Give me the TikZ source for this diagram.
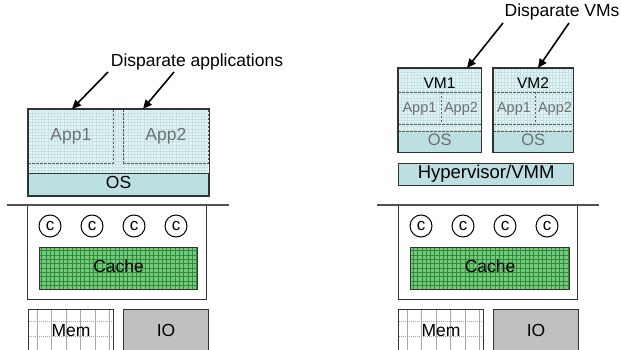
\documentclass[tikz,border=0pt]{standalone}
\usepackage{fontspec}
\setmainfont{Liberation Sans}
\usetikzlibrary{arrows.meta}

\definecolor{boxline}{HTML}{333333}
\definecolor{appbg}{HTML}{E3F4F4}
\definecolor{appgrid}{HTML}{C4E2E6}
\definecolor{osbg}{HTML}{BCDFE1}
\definecolor{cachebg}{HTML}{7DC47D}
\definecolor{cachegrid}{HTML}{23913A}
\definecolor{memgrid}{HTML}{A8A8A8}
\definecolor{iobg}{HTML}{C0C0C0}
\definecolor{softtext}{HTML}{707070}

\tikzset{
  box/.style={inner sep=0pt, anchor=north west, text height=0.72em, text depth=0pt,
    font=\fontsize{17.5}{17.5}\selectfont},
  frame/.style={draw=boxline, line width=1.2pt},
  dashbox/.style={draw=boxline!80, line width=0.8pt, dash pattern=on 2.5pt off 1.5pt},
  appfill/.style={fill=appbg, path picture={
      \draw[appgrid, line width=0.5pt, step=3.2pt]
        (path picture bounding box.south west) grid (path picture bounding box.north east);}},
  osfill/.style={fill=osbg},
  cachefill/.style={fill=cachebg, path picture={
      \draw[cachegrid, line width=0.6pt, step=4.3pt]
        (path picture bounding box.south west) grid (path picture bounding box.north east);}},
  memfill/.style={fill=white, path picture={
      \draw[memgrid, line width=1pt, dash pattern=on 1.2pt off 0.8pt, step=14.5pt]
        (path picture bounding box.south west) grid (path picture bounding box.north east);}},
  iofill/.style={fill=iobg},
  core/.style={circle, draw=black, line width=1pt, minimum size=22pt, inner sep=0pt,
    font=\fontsize{17}{17}\selectfont},
  pointer/.style={draw=black, line width=1.6pt, -{Triangle[length=9pt,width=8pt]}},
  caption/.style={anchor=base, inner sep=0pt, font=\fontsize{17.5}{17.5}\selectfont},
  divider/.style={draw=boxline!85, line width=1.2pt},
  vmlabel/.style={anchor=base, inner sep=0pt, font=\fontsize{15.5}{15.5}\selectfont},
  vmapp/.style={anchor=base, inner sep=0pt, text=softtext, font=\fontsize{14.5}{14.5}\selectfont},
}

\begin{document}
\begin{tikzpicture}[x=1pt,y=-1pt]
  \useasboundingbox (0,0) rectangle (621,350);

  % ---------------- left: applications on one OS ----------------
  \node[caption] (capL) at (197,67) {Disparate applications};
  \coordinate (aL1s) at (108,72);
  \coordinate (aL2s) at (174,72);

  \node[box, appfill, minimum width=180pt, minimum height=64pt] (appsL) at (28,109) {};
  \node[box, dashbox, text=softtext, minimum width=85pt, minimum height=54pt] (app1L) at (28,109) {App1};
  \node[box, dashbox, text=softtext, minimum width=85pt, minimum height=54pt] (app2L) at (123,109) {App2};
  \node[box, osfill, frame, minimum width=180pt, minimum height=22pt] (osL) at (28,173) {OS};
  \draw[frame] (appsL.north west) rectangle (osL.south east);

  \draw[pointer] (aL1s) -- (app1L.north -| 72,0);
  \draw[pointer] (aL2s) -- (app2L.north -| 143,0);

  % hardware, left
  \coordinate (divL1) at (7,205);
  \coordinate (divL2) at (229,205);
  \node[box, frame, fill=white, minimum width=179pt, minimum height=94pt] (cpuL) at (27,205) {};
  \draw[divider] (divL1) -- (divL2);
  \node[core] (cL1) at (50,226) {c};
  \node[core] (cL2) at (92,226) {c};
  \node[core] (cL3) at (134,226) {c};
  \node[core] (cL4) at (176,226) {c};
  \node[box, cachefill, frame, minimum width=158pt, minimum height=42pt] (cacheL) at (39,247) {Cache};
  \node[box, memfill, frame, minimum width=85pt, minimum height=46pt] (memL) at (28,309) {Mem};
  \node[box, iofill, frame, minimum width=85pt, minimum height=46pt] (ioL) at (123,309) {IO};

  % ---------------- right: virtual machines on a hypervisor ----------------
  \node[caption] (capR) at (562,17) {Disparate VMs};
  \coordinate (aR1s) at (503,23);
  \coordinate (aR2s) at (569,23);

  % VM1
  \node[box, appfill, minimum width=83pt, minimum height=84pt] (vm1) at (398,68) {};
  \node[box, osfill, text=softtext, font=\fontsize{16.5}{16.5}\selectfont,
        minimum width=83pt, minimum height=21pt] (os1) at (398,131) {OS};
  \node[vmlabel] (vm1t) at (439.5,89) {VM1};
  \draw[dashbox] (vm1.west |- 0,92) -- (vm1.east |- 0,92);
  \draw[dashbox] (vm1.west |- 0,124) -- (vm1.east |- 0,124);
  \draw[dashbox] (os1.north west) -- (os1.north east);
  \draw[dashbox] (441,92) -- (441,124);
  \node[vmapp] (vm1a1) at (419.5,113) {App1};
  \node[vmapp] (vm1a2) at (461,113) {App2};
  \draw[frame] (vm1.north west) rectangle (os1.south east);

  % VM2
  \node[box, appfill, minimum width=80pt, minimum height=84pt] (vm2) at (493,68) {};
  \node[box, osfill, text=softtext, font=\fontsize{16.5}{16.5}\selectfont,
        minimum width=80pt, minimum height=21pt] (os2) at (493,131) {OS};
  \node[vmlabel] (vm2t) at (533,89) {VM2};
  \draw[dashbox] (vm2.west |- 0,92) -- (vm2.east |- 0,92);
  \draw[dashbox] (vm2.west |- 0,124) -- (vm2.east |- 0,124);
  \draw[dashbox] (os2.north west) -- (os2.north east);
  \draw[dashbox] (535,92) -- (535,124);
  \node[vmapp] (vm2a1) at (514,113) {App1};
  \node[vmapp] (vm2a2) at (555,113) {App2};
  \draw[frame] (vm2.north west) rectangle (os2.south east);

  \draw[pointer] (aR1s) -- (vm1.north -| 467,0);
  \draw[pointer] (aR2s) -- (vm2.north -| 538,0);

  \node[box, osfill, frame, font=\fontsize{18.5}{18.5}\selectfont,
        minimum width=175pt, minimum height=22pt] (hyp) at (398,163) {Hypervisor/VMM};

  % hardware, right
  \coordinate (divR1) at (377,205);
  \coordinate (divR2) at (599,205);
  \node[box, frame, fill=white, minimum width=179pt, minimum height=94pt] (cpuR) at (398,205) {};
  \draw[divider] (divR1) -- (divR2);
  \node[core] (cR1) at (421,226) {c};
  \node[core] (cR2) at (463,226) {c};
  \node[core] (cR3) at (505,226) {c};
  \node[core] (cR4) at (547,226) {c};
  \node[box, cachefill, frame, minimum width=159pt, minimum height=42pt] (cacheR) at (410,247) {Cache};
  \node[box, memfill, frame, minimum width=85pt, minimum height=46pt] (memR) at (398,309) {Mem};
  \node[box, iofill, frame, minimum width=85pt, minimum height=46pt] (ioR) at (493,309) {IO};
\end{tikzpicture}
\end{document}
